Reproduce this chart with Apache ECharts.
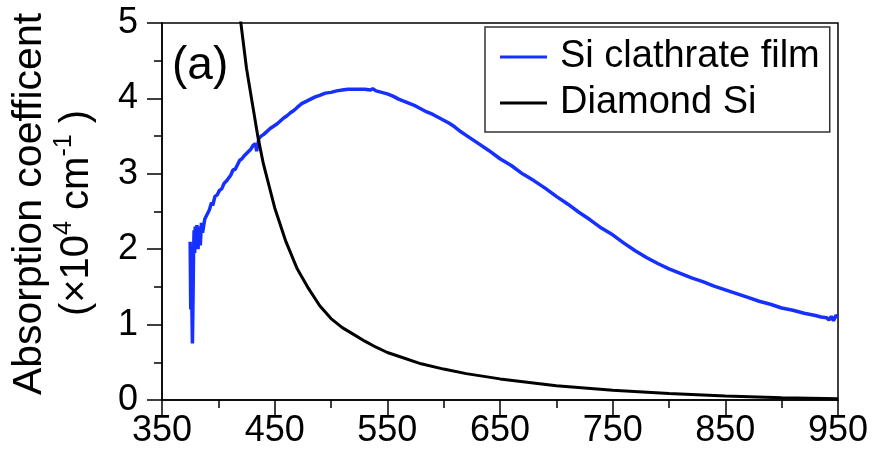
<!DOCTYPE html>
<html>
<head>
<meta charset="utf-8">
<script src="https://cdn.jsdelivr.net/npm/echarts@6/dist/echarts.min.js"></script>
<style>
  html, body { margin: 0; padding: 0; background: #fff; }
  #chart { width: 873px; height: 457px; }
</style>
</head>
<body>
<div id="chart"></div>
<script>
// x axis starts at 350 nm, ticks every 100 nm
var X0 = 350;
var xTickStep = 100;

// Si clathrate film (blue), wavelength in nm, absorption in 10^4 cm^-1
var filmWl = [375, 375.5, 376, 376.5, 377, 377.5, 378, 378.5, 379, 379.5, 380, 381, 382, 383, 384, 385, 386, 388, 390, 392, 394, 395, 397, 399,
  401, 403, 405, 407, 409, 411, 413, 415, 417, 419, 421, 423, 425, 427, 429, 431, 433, 434, 436, 438, 440, 443, 446, 449,
  452, 455, 458, 461, 464, 467, 470, 474, 478, 482, 486, 490, 495, 500, 505, 510, 515, 520, 525, 530, 535, 537, 540, 545,
  550, 555, 560, 565, 570, 575, 580, 585, 590, 595, 600, 605, 610, 615, 620, 630, 640, 650, 660, 670, 680, 690, 700, 710,
  720, 730, 740, 750, 760, 770, 780, 790, 800, 810, 820, 830, 840, 850, 860, 870, 880, 890, 900, 910, 920, 930, 935, 940,
  942, 944, 946, 948, 950];
var filmAbs = [2.10, 1.20, 1.55, 1.25, 0.75, 1.30, 1.95, 2.25, 1.95, 2.30, 2.10, 2.32, 2.00, 2.30, 2.05, 2.35, 2.22, 2.40, 2.46, 2.52, 2.62, 2.58, 2.70, 2.72,
  2.78, 2.80, 2.87, 2.90, 2.94, 2.98, 3.05, 3.06, 3.12, 3.18, 3.20, 3.24, 3.27, 3.30, 3.33, 3.38, 3.40, 3.30, 3.47, 3.50, 3.52, 3.56, 3.60, 3.63,
  3.66, 3.70, 3.74, 3.77, 3.81, 3.84, 3.88, 3.93, 3.96, 3.99, 4.02, 4.04, 4.07, 4.08, 4.10, 4.11, 4.12, 4.12, 4.12, 4.12, 4.11, 4.13, 4.10, 4.08,
  4.06, 4.03, 3.99, 3.96, 3.93, 3.90, 3.86, 3.82, 3.79, 3.75, 3.71, 3.67, 3.62, 3.56, 3.51, 3.41, 3.31, 3.20, 3.11, 3.00, 2.91, 2.81, 2.70, 2.60,
  2.49, 2.39, 2.28, 2.19, 2.08, 1.98, 1.89, 1.81, 1.74, 1.68, 1.62, 1.57, 1.51, 1.46, 1.41, 1.36, 1.31, 1.27, 1.22, 1.19, 1.15, 1.12, 1.10, 1.09,
  1.06, 1.11, 1.05, 1.12, 1.10];

// Diamond Si (black)
var diaWl = [410, 420, 425, 430, 435, 440, 450, 460, 470, 480, 490, 500, 510, 520, 530, 540, 550, 560, 580, 600, 620, 650, 700, 750, 800, 850, 900, 950];
var diaAbs = [6.7, 5.0, 4.4, 3.95, 3.5, 3.13, 2.55, 2.1, 1.74, 1.48, 1.25, 1.08, 0.96, 0.87, 0.78, 0.70, 0.63, 0.58, 0.48, 0.41, 0.35, 0.28, 0.19, 0.13, 0.085, 0.054, 0.03, 0.016];

var seriesNames = ['Si clathrate film', 'Diamond Si'];
var seriesColors = ['#1530ff', '#000000'];

var FONT = 'Liberation Sans, Arial, Helvetica, sans-serif';

var toPairs = function (xs, ys) {
    var out = [];
    for (var i = 0; i < xs.length; i++) {
        out.push([xs[i] - X0, ys[i]]);
    }
    return out;
};

var myChart = echarts.init(document.getElementById('chart'));

var axisCommon = {
    type: 'value',
    axisLine: { show: true, lineStyle: { color: '#000', width: 1.5 } },
    axisTick: { show: true, length: 15, lineStyle: { color: '#000', width: 1.5 } },
    minorTick: { show: true, splitNumber: 2, length: 8, lineStyle: { color: '#000', width: 1.5 } },
    splitLine: { show: false },
    minorSplitLine: { show: false }
};

var option = {
    animation: false,
    backgroundColor: '#fff',
    grid: {
        left: 162, right: 35, top: 23, bottom: 57,
        show: true, borderColor: '#000', borderWidth: 1.5, backgroundColor: 'transparent'
    },
    xAxis: Object.assign({}, axisCommon, {
        min: 0,
        max: 600,
        interval: xTickStep,
        axisLabel: {
            color: '#000', fontSize: 36, fontFamily: FONT, margin: 13,
            formatter: function (v) { return String(v + X0); }
        }
    }),
    yAxis: Object.assign({}, axisCommon, {
        min: 0,
        max: 5,
        interval: 1,
        axisLabel: { color: '#000', fontSize: 36, fontFamily: FONT, margin: 24 }
    }),
    legend: {
        orient: 'vertical',
        left: 485,
        top: 27,
        padding: [11, 10, 10, 15],
        icon: 'rect',
        itemWidth: 47,
        itemHeight: 3,
        itemGap: 8,
        backgroundColor: '#fff',
        borderColor: '#333',
        borderWidth: 1.5,
        borderRadius: 0,
        textStyle: { color: '#000', fontSize: 38, fontFamily: FONT, padding: [0, 0, 0, 8] },
        data: seriesNames
    },
    series: [
        {
            name: seriesNames[0],
            type: 'line',
            symbol: 'none',
            lineStyle: { color: seriesColors[0], width: 3.5 },
            itemStyle: { color: seriesColors[0] },
            data: toPairs(filmWl, filmAbs),
            clip: true
        },
        {
            name: seriesNames[1],
            type: 'line',
            symbol: 'none',
            lineStyle: { color: seriesColors[1], width: 3 },
            itemStyle: { color: seriesColors[1] },
            data: toPairs(diaWl, diaAbs),
            clip: true,
            z: 3
        }
    ],
    graphic: [
        {
            type: 'text',
            x: 30, y: 204,
            rotation: Math.PI / 2,
            style: {
                text: 'Absorption coefficent',
                fontSize: 41, fontFamily: FONT, fill: '#000',
                align: 'center', verticalAlign: 'middle'
            }
        },
        {
            type: 'text',
            x: 77, y: 213,
            rotation: Math.PI / 2,
            style: {
                text: '(×10{sup|4} cm{sup|-1} )',
                fontSize: 40, fontFamily: FONT, fill: '#000',
                align: 'center', verticalAlign: 'middle',
                lineHeight: 50,
                rich: {
                    sup: { fontSize: 25, fontFamily: FONT, fill: '#000', verticalAlign: 'top', lineHeight: 50 }
                }
            }
        },
        {
            type: 'text',
            left: 172, top: 43,
            style: { text: '(a)', fontSize: 46, fontFamily: FONT, fill: '#000' }
        }
    ]
};
myChart.setOption(option);
</script>
</body>
</html>
